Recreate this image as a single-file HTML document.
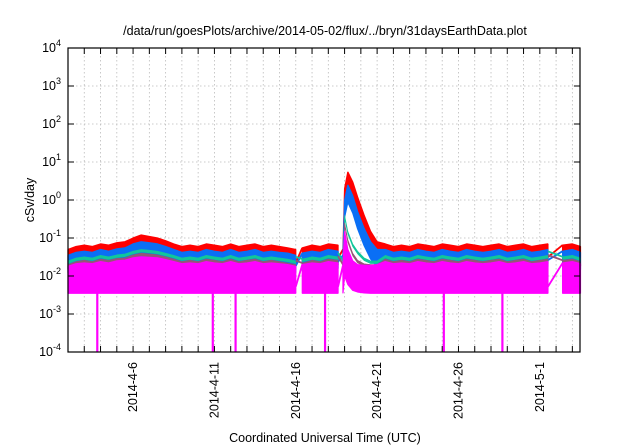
<!DOCTYPE html>
<html><head><meta charset="utf-8"><style>
html,body{margin:0;padding:0;background:#fff;}
svg{display:block;font-family:"Liberation Sans",sans-serif;}
</style></head><body>
<svg id="chart" width="640" height="448" viewBox="0 0 640 448" xmlns="http://www.w3.org/2000/svg">
<text x="325" y="35" font-size="12.5" text-anchor="middle">/data/run/goesPlots/archive/2014-05-02/flux/../bryn/31daysEarthData.plot</text>
<text transform="translate(34,200) rotate(-90)" font-size="12.5" text-anchor="middle">cSv/day</text>
<text x="325" y="442" font-size="12.5" text-anchor="middle">Coordinated Universal Time (UTC)</text>
<g id="grid"></g>
<g id="series"></g>
<g id="axes"></g>
</svg>
<script>
const times = [2,2.5,3,3.5,4,4.5,5,5.5,6,6.5,7,7.5,8,8.5,9,9.5,10,10.5,11,11.5,12,12.5,13,13.5,14,14.5,15,15.5,16,
 16.4,17,17.5,18,18.6,
 18.9,19.0,19.2,19.5,19.8,20.2,20.6,21,
 21.5,22,22.5,23,23.5,24,24.5,25,25.5,26,26.5,27,27.5,28,28.5,29,29.5,30,30.5,31,31.5,
 32.4,33,33.5];
const gapAfter = [16, 18.6, 31.5];
const red = [0.05,0.06,0.065,0.06,0.07,0.065,0.075,0.08,0.1,0.12,0.11,0.1,0.085,0.07,0.06,0.065,0.06,0.07,0.065,0.06,0.07,0.06,0.065,0.07,0.06,0.065,0.06,0.055,0.05,
 0.055,0.065,0.06,0.07,0.065,
 0.05,2.0,5.5,3.0,1.2,0.4,0.15,0.08,
 0.07,0.06,0.065,0.06,0.07,0.065,0.06,0.07,0.065,0.06,0.07,0.065,0.06,0.065,0.07,0.06,0.065,0.07,0.06,0.065,0.07,
 0.065,0.07,0.06];
const blue = [0.035,0.042,0.045,0.042,0.05,0.045,0.052,0.055,0.07,0.08,0.075,0.07,0.06,0.05,0.042,0.045,0.042,0.05,0.045,0.042,0.05,0.042,0.045,0.05,0.042,0.045,0.042,0.04,0.035,
 0.04,0.045,0.042,0.05,0.045,
 0.035,1.0,2.5,1.3,0.5,0.18,0.08,0.05,
 0.05,0.042,0.045,0.042,0.05,0.045,0.042,0.05,0.045,0.042,0.05,0.045,0.042,0.045,0.05,0.042,0.045,0.05,0.042,0.045,0.05,
 0.045,0.05,0.042];
const teal = [0.025,0.03,0.032,0.03,0.035,0.032,0.036,0.038,0.045,0.05,0.048,0.045,0.04,0.035,0.03,0.032,0.03,0.035,0.032,0.03,0.035,0.03,0.032,0.035,0.03,0.032,0.03,0.028,0.025,
 0.028,0.032,0.03,0.035,0.032,
 0.025,0.4,0.15,0.07,0.045,0.03,0.025,0.025,
 0.035,0.03,0.032,0.03,0.035,0.032,0.03,0.035,0.032,0.03,0.035,0.032,0.03,0.032,0.035,0.03,0.032,0.035,0.03,0.032,0.035,
 0.032,0.035,0.03];
const brown = [0.02,0.024,0.026,0.024,0.028,0.026,0.029,0.03,0.036,0.04,0.038,0.036,0.032,0.028,0.024,0.026,0.024,0.028,0.026,0.024,0.028,0.024,0.026,0.028,0.024,0.026,0.024,0.022,0.02,
 0.022,0.026,0.024,0.028,0.026,
 0.02,0.25,0.09,0.04,0.026,0.021,0.02,0.02,
 0.028,0.024,0.026,0.024,0.028,0.026,0.024,0.028,0.026,0.024,0.028,0.026,0.024,0.026,0.028,0.024,0.026,0.028,0.024,0.026,0.028,
 0.026,0.028,0.024];
const magenta = [0.018,0.021,0.022,0.021,0.024,0.022,0.025,0.026,0.03,0.032,0.031,0.03,0.027,0.024,0.021,0.022,0.021,0.024,0.022,0.021,0.024,0.021,0.022,0.024,0.021,0.022,0.021,0.02,0.018,
 0.02,0.022,0.021,0.024,0.022,
 0.019,0.15,0.05,0.025,0.02,0.019,0.019,0.02,
 0.024,0.021,0.022,0.021,0.024,0.022,0.021,0.024,0.022,0.021,0.024,0.022,0.021,0.022,0.024,0.021,0.022,0.024,0.021,0.022,0.024,
 0.022,0.024,0.021];
const floorVals = [0.0035,0.0035,0.0035,0.0035,0.0035,0.0035,0.0035,0.0035,0.0035,0.0035,0.0035,0.0035,0.0035,0.0035,0.0035,0.0035,0.0035,0.0035,0.0035,0.0035,0.0035,0.0035,0.0035,0.0035,0.0035,0.0035,0.0035,0.0035,0.0035,
 0.0035,0.0035,0.0035,0.0035,0.0035,
 0.0035,0.01,0.006,0.0042,0.0038,0.0036,0.0035,0.0035,
 0.0035,0.0035,0.0035,0.0035,0.0035,0.0035,0.0035,0.0035,0.0035,0.0035,0.0035,0.0035,0.0035,0.0035,0.0035,0.0035,0.0035,0.0035,0.0035,0.0035,0.0035,
 0.0035,0.0035,0.0035];
const spikeDays = [3.8, 10.9, 12.3, 17.8, 25.1, 28.7];
const yTickExps = [-4,-3,-2,-1,0,1,2,3,4];
const xLabelDays = [6,11,16,21,26,31];
const xLabels = ["2014-4-6","2014-4-11","2014-4-16","2014-4-21","2014-4-26","2014-5-1"];

const L=68,R=580,T=48,B=352, X0=2, X1=33.47, YMIN=-4, YMAX=4;
const NS="http://www.w3.org/2000/svg";
const x = d => L+(d-X0)/(X1-X0)*(R-L);
const y = v => B-(Math.log10(v)-YMIN)/(YMAX-YMIN)*(B-T);
function mk(tag, parent, attrs){const e=document.createElementNS(NS,tag);for(const k in attrs)e.setAttribute(k,attrs[k]);parent.appendChild(e);return e;}
const grid=document.getElementById('grid'), ser=document.getElementById('series'), axes=document.getElementById('axes');

for(let d=3; d<X1; d++){
  const g=mk('line',grid,{x1:x(d),x2:x(d),y1:T,y2:B,stroke:'#bbb','stroke-width':0.8,'stroke-dasharray':'1.5,2.5'});
  
  
}
yTickExps.forEach(e=>{
  if(e===YMIN||e===YMAX) return;
  const g=mk('line',grid,{x1:L,x2:R,y1:y(Math.pow(10,e)),y2:y(Math.pow(10,e)),stroke:'#bbb','stroke-width':0.8,'stroke-dasharray':'1.5,2.5'});
  
  
});

const segs=[]; let cur=[];
times.forEach((t,i)=>{cur.push(i); if(gapAfter.includes(t)){segs.push(cur);cur=[];}});
if(cur.length)segs.push(cur);

function band(name,color,up,lowFn,sw){
  segs.forEach(s=>{
    let p=s.map(i=>x(times[i])+','+y(up[i]));
    p=p.concat(s.slice().reverse().map(i=>x(times[i])+','+y(lowFn(i))));
    const e=mk('polygon',ser,{points:p.join(' '),fill:color,stroke:color,'stroke-width':sw,'stroke-linejoin':'bevel'});
    
    
  });
  for(let k=0;k<segs.length-1;k++){
    const a=segs[k][segs[k].length-1], b=segs[k+1][0];
    const e=mk('line',ser,{x1:x(times[a]),y1:y(lowFn(a)*1.5),x2:x(times[b]),y2:y(up[b]),stroke:color,'stroke-width':1.8});
    
    
  }
}
band('red','#ff0000',red,i=>red[i]*0.3,1.2);
band('blue','#0a6ff5',blue,i=>blue[i]*0.35,1.2);
band('teal','#10c79a',teal,i=>teal[i]*0.85,0.6);
band('brown','#955577',brown,i=>brown[i]*0.85,0.6);
band('magenta','#ff00ff',magenta,i=>floorVals[i],1.2);
spikeDays.forEach(d=>{
  const e=mk('line',ser,{x1:x(d),x2:x(d),y1:y(0.0035),y2:B,stroke:'#ff00ff','stroke-width':2.2});
  
  
});

const fr=mk('rect',axes,{x:L,y:T,width:R-L,height:B-T,fill:'none',stroke:'#000','stroke-width':1.2});


for(let d=3; d<X1; d++){
  const t1=mk('line',axes,{x1:x(d),x2:x(d),y1:B,y2:B-6,stroke:'#000','stroke-width':1});
  
  
  const t2=mk('line',axes,{x1:x(d),x2:x(d),y1:T,y2:T+6,stroke:'#000','stroke-width':1});
  
  
}
yTickExps.forEach(e=>{
  const yy=y(Math.pow(10,e));
  const a=mk('line',axes,{x1:L,x2:L+6,y1:yy,y2:yy,stroke:'#000'});
  
  
  const b=mk('line',axes,{x1:R,x2:R-6,y1:yy,y2:yy,stroke:'#000'});
  
  
  const tx=mk('text',axes,{x:L-7,y:yy+4,'font-size':12.5,'text-anchor':'end'});
  
  
  const base=document.createElementNS(NS,'tspan'); base.textContent='10'; tx.appendChild(base);
  const sup=document.createElementNS(NS,'tspan'); sup.setAttribute('dy','-6'); sup.setAttribute('font-size','9'); sup.textContent=String(e); tx.appendChild(sup);
});
xLabelDays.forEach((d,i)=>{
  const tx=mk('text',axes,{transform:`translate(${x(d)+4},362) rotate(-90)`,'font-size':12.5,'text-anchor':'end'});
  
  
  tx.textContent=xLabels[i];
});
</script>
</body></html>
